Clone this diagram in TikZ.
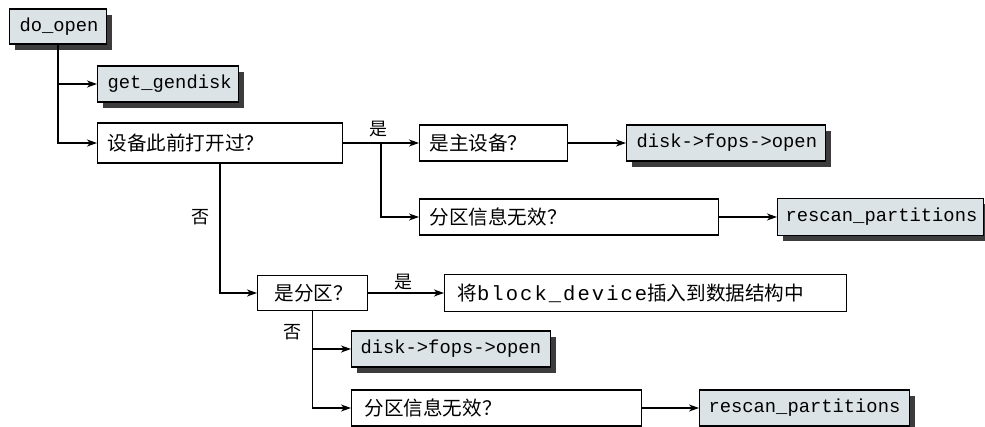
\documentclass[tikz,border=0pt]{standalone}
\usepackage{fontspec}
\setmainfont{Noto Sans CJK SC}
\setmonofont{Liberation Mono}
\newfontfamily\widemono[LetterSpace=10]{Liberation Mono}
\usetikzlibrary{shadows,arrows.meta}
\definecolor{boxfill}{HTML}{DCE3E6}
\definecolor{shadowc}{HTML}{3C3C3C}
\tikzset{
  box/.style={draw, line width=1.1pt, anchor=west, align=left, inner ysep=0pt, inner xsep=10pt,
    fill=white, font=\fontsize{19.6}{22}\selectfont},
  fn/.style={box, fill=boxfill, font=\ttfamily\fontsize{18.8}{22}\selectfont,
    drop shadow={shadow xshift=5pt, shadow yshift=-6pt, fill=shadowc, opacity=1}},
  conn/.style={line width=1.5pt, -{Stealth[length=10pt,width=7pt,inset=3pt]}},
  lbl/.style={font=\fontsize{18}{20}\selectfont, inner sep=0pt},
}
\begin{document}
\begin{tikzpicture}[x=1pt,y=-1pt]
\useasboundingbox (0,0) rectangle (985,427);
% boxes
\node[fn, text width=77pt, minimum height=35pt] (doopen) at (9,26.5) {do\_open};
\node[fn, text width=121pt, minimum height=36pt] (gendisk) at (97,84) {get\_gendisk};
\node[box, text width=225pt, minimum height=40pt] (opened) at (97,143) {设备此前打开过？};
\node[box, text width=128pt, minimum height=36pt] (primary) at (419,143) {是主设备？};
\node[fn, text width=179pt, minimum height=36pt] (disk1) at (626,143) {disk->fops->open};
\node[box, text width=279pt, minimum height=36pt] (invalid1) at (419,217) {分区信息无效？};
\node[fn, text width=190pt, inner xsep=8pt, minimum height=37pt] (rescan1) at (777,217) {rescan\_partitions};
\node[box, text width=76pt, inner xsep=17pt, minimum height=35pt] (ispart) at (257,293) {是分区？};
\node[box, text width=376pt, inner xsep=13pt, minimum height=37pt] (insert) at (444,293) {将{\widemono\fontsize{20.5}{22}\selectfont block\_device}插入到数据结构中};
\node[fn, text width=181pt, inner xsep=9pt, minimum height=36pt] (disk2) at (351,349) {disk->fops->open};
\node[box, text width=264pt, inner xsep=13pt, minimum height=36pt] (invalid2) at (351,408) {分区信息无效？};
\node[fn, text width=192pt, inner xsep=9pt, minimum height=36pt] (rescan2) at (699,408) {rescan\_partitions};
% labels
\node[lbl] (yes1) at (378,129) {是};
\node[lbl] (no1) at (200,217) {否};
\node[lbl] (yes2) at (403,282) {是};
\node[lbl] (no2) at (292,332) {否};
% connectors
\coordinate (br1) at (381,143);
\draw[conn] (doopen.south) |- (gendisk.west);
\draw[conn] (doopen.south) |- (opened.west);
\draw[conn] (opened.east) -- (primary.west);
\draw[conn] (br1) |- (invalid1.west);
\draw[conn] (primary.east) -- (disk1.west);
\draw[conn] (invalid1.east) -- (rescan1.west);
\draw[conn] (opened.south) |- (ispart.west);
\draw[conn] (ispart.east) -- (insert.west);
\draw[conn] (ispart.south) |- (disk2.west);
\draw[conn] (ispart.south) |- (invalid2.west);
\draw[conn] (invalid2.east) -- (rescan2.west);
\end{tikzpicture}
\end{document}
